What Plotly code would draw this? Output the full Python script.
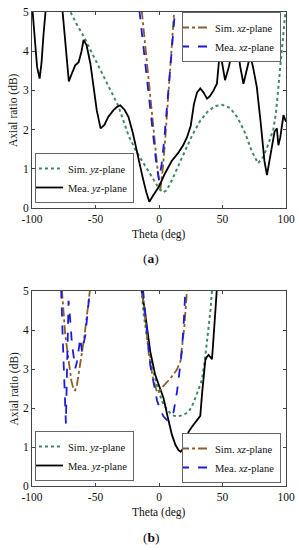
import plotly.graph_objects as go

# ---------------- (a) ----------------
a_sim_yz_theta = [-76, -70, -65, -59, -50, -40, -32, -24, -18, -11, -5, 0, 3, 6, 10, 15, 20, 26, 32, 38, 44, 50, 56, 62, 68, 73, 78, 82, 86, 90, 92, 94, 96, 99, 101]
a_sim_yz_ar = [5.4, 5.0, 4.7, 4.36, 3.78, 3.15, 2.6, 1.85, 1.45, 1.08, 0.75, 0.5, 0.4, 0.45, 0.7, 1.05, 1.4, 1.85, 2.2, 2.45, 2.6, 2.63, 2.55, 2.3, 1.9, 1.45, 1.14, 1.3, 1.62, 2.0, 2.4, 3.1, 3.8, 4.95, 5.5]

a_mea_yz_theta = [-100, -98, -96, -94, -92.5, -91, -89.5, -88, -84, -80, -77, -76, -74, -72, -71, -69, -66, -63.3, -61, -59.4, -57, -54, -51, -49, -46, -43, -40, -36, -33, -30.5, -27, -24, -20.5, -17, -13, -10, -7.6, -5, -2, 0, 5, 10, 15, 19, 22, 25, 27.5, 30, 32.5, 35, 37.8, 40, 43, 45.6, 48, 50, 52, 55, 58, 61.4, 64, 66.5, 69, 71.8, 74, 77, 80, 83, 85, 87, 89, 91, 92.8, 94, 95.5, 98, 99.5, 100]
a_mea_yz_ar = [5.2, 4.5, 3.6, 3.3, 3.7, 4.4, 5.0, 5.5, 6.0, 6.0, 5.4, 5.0, 4.2, 3.4, 3.23, 3.4, 3.64, 3.72, 4.0, 4.29, 4.15, 3.68, 3.0, 2.49, 2.03, 2.12, 2.32, 2.49, 2.58, 2.62, 2.5, 2.32, 1.9, 1.35, 0.8, 0.4, 0.16, 0.3, 0.45, 0.55, 0.9, 1.2, 1.4, 1.6, 1.8, 2.1, 2.65, 2.95, 3.05, 2.95, 2.79, 2.85, 3.0, 3.17, 4.02, 3.6, 3.26, 3.6, 4.05, 4.19, 3.6, 3.17, 3.5, 3.89, 3.6, 3.09, 2.2, 1.2, 0.84, 1.2, 1.65, 1.95, 2.03, 1.6, 1.8, 2.37, 2.24, 2.2]

a_sim_xz_theta = [-15, -13.5, -10, -7, -4, -1.5, 1, 3, 5, 7, 9, 11, 12, 13]
a_sim_xz_ar = [5.5, 5.0, 4.0, 3.0, 2.0, 1.1, 0.45, 1.0, 1.8, 2.7, 3.6, 4.5, 5.0, 5.5]

a_mea_xz_theta = [-17, -15.3, -12, -8.2, -5, -2, 0, 2, 4, 6, 7.6, 10, 12.5, 14]
a_mea_xz_ar = [5.5, 5.0, 4.1, 3.0, 2.0, 1.1, 0.72, 1.1, 1.7, 2.4, 3.0, 4.0, 5.0, 5.5]

# ---------------- (b) ----------------
b_sim_yz_theta = [-15, -13.5, -12, -9, -5, 0, 3.6, 9, 12, 15.4, 19, 23.3, 26, 28.6, 31, 33.8, 36, 39, 40.5, 41.7, 42.5]
b_sim_yz_ar = [5.5, 5.0, 4.4, 3.7, 3.0, 2.4, 2.08, 1.86, 1.8, 1.79, 1.82, 1.9, 2.05, 2.25, 2.45, 2.72, 3.2, 4.0, 4.5, 5.0, 5.5]

b_mea_yz_theta = [-14.5, -13.4, -10, -6.9, -3, 0, 3.6, 7, 10.2, 13, 15.4, 17, 19.4, 21, 23.3, 26, 28, 30, 32.5, 34, 35.5, 36.5, 37.5, 39, 40.5, 41.7, 42.5, 44, 45.7, 46.5]
b_mea_yz_ar = [5.5, 5.0, 4.2, 3.45, 2.85, 2.55, 2.25, 1.75, 1.31, 1.05, 0.92, 0.88, 0.97, 1.15, 1.39, 1.52, 1.6, 1.7, 1.8, 2.4, 3.0, 3.23, 3.3, 3.36, 3.3, 3.25, 3.6, 4.3, 5.0, 5.5]

b_sim_xz_theta = [-78, -76.4, -73.8, -71.2, -69, -67.2, -66, -64.6, -62.5, -60.6, -58.5, -56.7, -54, -53,
                  None,
                  -14.5, -13.4, -10.5, -8, -5, -2, -0.5, 3, 9, 14, 16.8, 18.5, 20, 22, 23]
b_sim_xz_ar = [5.5, 5.0, 3.87, 3.19, 2.7, 2.46, 2.45, 2.59, 3.0, 3.44, 3.9, 4.38, 5.0, 5.4,
               None,
               5.4, 5.0, 4.2, 3.4, 2.8, 2.45, 2.4, 2.55, 2.76, 2.98, 3.19, 3.6, 4.1, 5.0, 5.5]

b_mea_xz_theta = [-78, -77, -75.5, -74.2, -73.3, -72.5, -71.8, -71.2, -70, -68.5, -65.9, -64.5, -62, -60.6, -58, -55.4, -54.5, -54,
                  None,
                  -14, -12, -9.5, -6.9, -4, -1.6, 1, 3.6, 6.3, 8.9, 11.5, 14.2, 16, 18, 19.5, 20.7, 21.5]
b_mea_xz_ar = [5.5, 5.0, 3.5, 2.3, 1.6, 2.9, 4.1, 4.75, 4.3, 3.62, 3.02, 3.2, 3.79, 3.44, 3.87, 4.64, 5.0, 5.4,
               None,
               5.5, 4.9, 4.0, 3.1, 2.6, 2.2, 1.95, 1.78, 1.69, 1.74, 1.9, 2.42, 2.9, 3.45, 4.2, 5.0, 5.5]

x_tickvals = [-100, -50, 0, 50, 100]
x_ticktext = ["-100", "-50", "0", "50", "100"]
y_tickvals = [0, 1, 2, 3, 4, 5]
y_ticktext = ["0", "1", "2", "3", "4", "5"]

FONT = "Liberation Serif"
C_SIM_XZ = "#8c5f2a"
C_MEA_XZ = "#1c1cd6"
C_SIM_YZ = "#3f8a5f"
C_MEA_YZ = "#000000"

fig = go.Figure()

def add(x, y, name, color, dash, xa, ya, legend, width=1.8):
    fig.add_trace(go.Scatter(
        x=x, y=y, mode="lines", name=name,
        line=dict(color=color, dash=dash, width=width),
        xaxis=xa, yaxis=ya, legend=legend, connectgaps=False,
    ))

# (a)
add(a_sim_xz_theta, a_sim_xz_ar, "Sim. <i>xz</i>-plane", C_SIM_XZ, "dashdot", "x", "y", "legend")
add(a_mea_xz_theta, a_mea_xz_ar, "Mea. <i>xz</i>-plane", C_MEA_XZ, "dash", "x", "y", "legend")
add(a_sim_yz_theta, a_sim_yz_ar, "Sim. <i>yz</i>-plane", C_SIM_YZ, "dot", "x", "y", "legend2", 2.0)
add(a_mea_yz_theta, a_mea_yz_ar, "Mea. <i>yz</i>-plane", C_MEA_YZ, "solid", "x", "y", "legend2")
# (b)
add(b_sim_yz_theta, b_sim_yz_ar, "Sim. <i>yz</i>-plane", C_SIM_YZ, "dot", "x2", "y2", "legend3", 2.0)
add(b_mea_yz_theta, b_mea_yz_ar, "Mea. <i>yz</i>-plane", C_MEA_YZ, "solid", "x2", "y2", "legend3")
add(b_sim_xz_theta, b_sim_xz_ar, "Sim. <i>xz</i>-plane", C_SIM_XZ, "dashdot", "x2", "y2", "legend4")
add(b_mea_xz_theta, b_mea_xz_ar, "Mea. <i>xz</i>-plane", C_MEA_XZ, "dash", "x2", "y2", "legend4")

W, H = 299, 550
def px_x(p):
    return p / W
def px_y(p):
    return 1 - p / H

axis_common = dict(
    showgrid=False, zeroline=False, showline=True, linecolor="#444", linewidth=1,
    mirror="ticks", ticks="inside", ticklen=3, tickcolor="#444", automargin=False,
    tickfont=dict(family=FONT, size=11.5, color="#111"),
)

fig.update_layout(
    template="none",
    width=W, height=H, autosize=False,
    margin=dict(l=0, r=0, t=0, b=0, pad=0),
    paper_bgcolor="white", plot_bgcolor="white",
    font=dict(family=FONT, size=11, color="#111"),
    xaxis=dict(domain=[px_x(32), px_x(286)], range=[-100, 100], anchor="y",
               tickvals=x_tickvals, ticktext=x_ticktext, **axis_common),
    yaxis=dict(domain=[px_y(208), px_y(12)], range=[0, 5], anchor="x",
               tickvals=y_tickvals, ticktext=y_ticktext, **axis_common),
    xaxis2=dict(domain=[px_x(32), px_x(286)], range=[-100, 100], anchor="y2",
                tickvals=x_tickvals, ticktext=x_ticktext, **axis_common),
    yaxis2=dict(domain=[px_y(486), px_y(291)], range=[0, 5], anchor="x2",
                tickvals=y_tickvals, ticktext=y_ticktext, **axis_common),
)

leg_common = dict(
    font=dict(family=FONT, size=10.5, color="#111"),
    bgcolor="white", bordercolor="#666", borderwidth=1,
    itemwidth=30, tracegroupgap=0, indentation=-8,
)
fig.update_layout(
    legend=dict(x=px_x(281), y=px_y(12), xanchor="right", yanchor="top", **leg_common),
    legend2=dict(x=px_x(35), y=px_y(203), xanchor="left", yanchor="bottom", **leg_common),
    legend3=dict(x=px_x(35), y=px_y(481), xanchor="left", yanchor="bottom", **leg_common),
    legend4=dict(x=px_x(281), y=px_y(483), xanchor="right", yanchor="bottom", **leg_common),
)

ann = []
def note(text, x, y, size, angle=0):
    ann.append(dict(text=text, x=px_x(x), y=px_y(y), xref="paper", yref="paper",
                    xanchor="center", yanchor="middle", showarrow=False, textangle=angle,
                    font=dict(family=FONT, size=size, color="#111")))

for yc in (110, 388.5):
    note("Axial ratio (dB)", 14, yc, 11.5, -90)
for yc in (234, 512):
    note("Theta (deg)", 158, yc, 11.5)
note("(<b>a</b>)", 151, 258, 13.5)
note("(<b>b</b>)", 151, 537, 13.5)
fig.update_layout(annotations=ann)

fig.write_html("out.html", config={"displayModeBar": False},
               post_script="document.body.style.margin='0';document.body.style.overflow='hidden';")
